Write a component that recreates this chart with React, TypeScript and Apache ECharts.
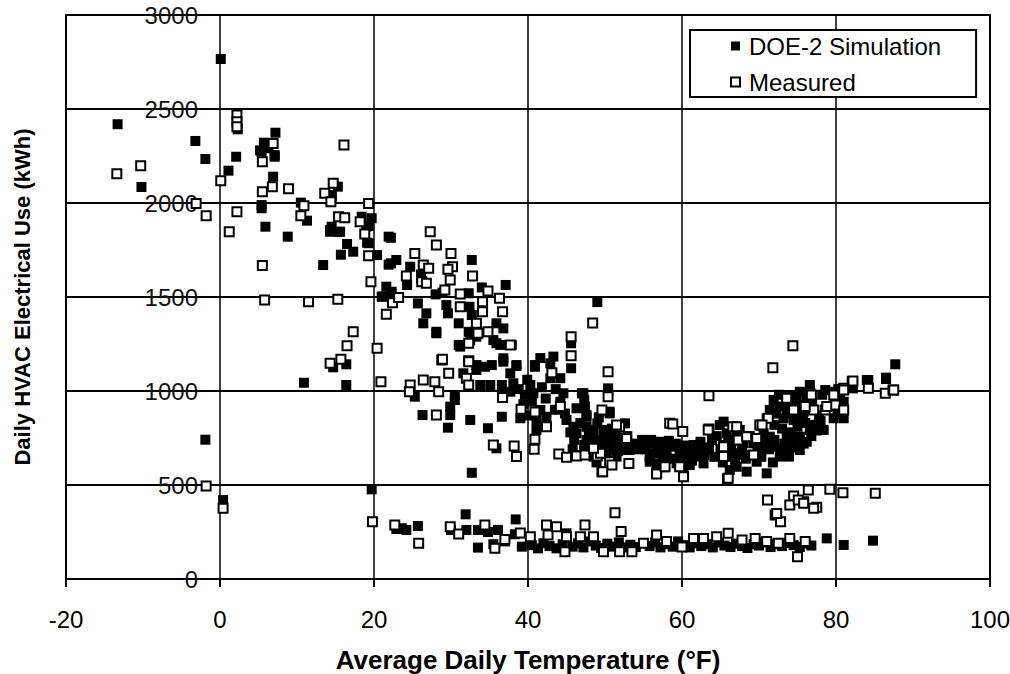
import React, { useEffect, useRef } from "react";
import * as echarts from "echarts";

const FONT = "'Liberation Sans', Arial, Helvetica, sans-serif";

const seriesNames = ["DOE-2 Simulation", "Measured"];
const xTitle = "Average Daily Temperature (°F)";
const yTitle = "Daily HVAC Electrical Use (kWh)";

// DOE-2 simulation points [temperature °F, kWh]
const simCold: [number, number][] = [
  [-13.3, 2419], [-10.2, 2085], [-3.2, 2330], [-1.9, 2234], [0.1, 2766], [1.1, 2172], [2.1, 2246], [2.3, 2392],
  [5.2, 2280], [5.4, 2273], [5.7, 2321], [6.3, 2291], [6.9, 2317], [7.1, 2246], [7.2, 2374], [7.1, 2255], [6.9, 2140],
  [5.4, 1989], [5.4, 1972], [5.9, 1874], [8.8, 1821], [10.5, 2002], [11.3, 1906], [10.9, 1044], [-1.9, 741], [0.4, 420],
];
const simCool: [number, number][] = [
  [15.3, 2087], [14.5, 2033], [14.5, 2042], [14.5, 1874], [14.3, 1847], [15.6, 1847], [14.3, 1856], [15.4, 1847],
  [16.5, 1782], [15.7, 1725], [17.3, 1741], [13.4, 1670], [18.4, 1927], [19.7, 1919], [19.3, 1878], [19.0, 1874],
  [19.3, 1786], [19.1, 1789], [20.4, 1723], [21.9, 1821], [21.9, 1672], [21.1, 1502], [21.6, 1555], [22.2, 1815],
  [22.2, 1679], [22.9, 1697], [21.0, 1502], [22.3, 1528], [14.7, 1126], [16.4, 1142], [16.4, 1032], [19.7, 477],
];
const simHeating: [number, number][] = [
  [24.7, 1661], [24.3, 1564], [26.1, 1599], [26.1, 1620], [28.0, 1514], [28.9, 1523], [25.7, 1466], [26.8, 1413],
  [26.4, 1360], [28.1, 1315], [29.4, 1457], [29.6, 1413], [31.0, 1360], [32.3, 1520], [32.7, 1697], [34.0, 1551],
  [32.4, 1448], [32.7, 1404], [32.3, 1315], [32.5, 1271], [35.9, 1360], [36.8, 1333], [35.5, 1271], [36.4, 1245],
  [37.1, 1564], [38.5, 1138], [40.9, 1138], [36.8, 1174], [33.3, 1138], [31.0, 1245], [28.1, 1307], [31.2, 1236],
  [33.3, 1289], [35.9, 1254], [37.9, 1245], [36.8, 1156], [38.5, 1133], [33.3, 1112], [34.4, 1129], [35.3, 1138],
  [31.6, 1094], [33.8, 1032], [35.1, 1032], [36.6, 1032], [37.7, 1094], [38.1, 1041], [37.7, 996], [36.6, 863],
  [34.8, 802], [32.5, 846], [29.6, 805], [29.9, 872], [29.9, 917], [30.5, 952], [30.5, 979], [26.3, 872],
  [25.3, 970], [35.9, 695], [32.7, 565], [39.0, 855], [38.8, 1010], [39.6, 980], [39.9, 1060], [39.4, 930],
  [40.1, 870],
];
const simMild: [number, number][] = [
  [40.9, 1129], [43.3, 1183], [42.9, 1147], [42.9, 1068], [44.2, 1068], [45.6, 1121], [45.6, 1254], [49.0, 1473],
  [41.6, 1175], [40.3, 1032], [40.7, 988], [40.5, 943], [41.6, 899], [42.4, 863], [41.1, 846], [41.1, 793],
  [44.6, 988], [44.2, 943], [47.0, 988], [47.3, 952], [46.3, 908], [45.0, 846], [45.9, 810], [47.6, 872],
  [46.3, 775], [48.1, 793], [49.0, 828], [49.8, 793], [50.6, 881], [50.4, 1005], [52.6, 828], [47.6, 739],
  [49.8, 739], [51.5, 757], [52.4, 704], [51.1, 686], [49.4, 686], [48.1, 686], [47.3, 713], [53.2, 686],
  [55.8, 722], [57.1, 722], [57.6, 669], [55.8, 651], [56.7, 615], [50.4, 1014], [50.6, 890], [47.2, 988],
  [47.4, 917], [47.6, 863], [48.5, 793], [50.0, 766], [51.5, 739], [52.8, 686], [51.5, 651], [49.4, 704],
  [48.1, 713], [47.6, 810], [51.1, 757], [52.2, 730], [48.5, 651], [50.2, 669], [41.8, 1020], [42.3, 960],
  [43.6, 1010], [43.5, 900], [44.8, 880], [45.5, 780], [46.0, 740], [46.8, 830], [47.9, 760], [48.7, 740],
  [49.2, 860], [50.3, 720], [50.9, 800], [51.7, 680], [52.9, 760], [53.7, 720], [54.3, 690], [54.8, 740],
  [48.9, 620], [47.0, 660], [45.8, 690],
];
const simCooling: [number, number][] = [
  [55.4, 722], [56.3, 669], [55.8, 624], [57.1, 730], [58.0, 686], [57.6, 633], [58.9, 704], [59.7, 669],
  [59.3, 615], [60.6, 686], [61.5, 713], [61.9, 651], [62.8, 615], [63.2, 686], [63.9, 739], [61.0, 606],
  [60.2, 589], [57.1, 597], [64.9, 819], [65.8, 775], [67.1, 757], [68.0, 722], [65.4, 713], [66.6, 669],
  [67.5, 660], [65.8, 651], [67.1, 597], [68.4, 571], [66.2, 580], [65.4, 837], [67.5, 793], [69.3, 722],
  [70.1, 686], [69.7, 624], [71.0, 562], [71.4, 757], [72.3, 704], [72.7, 651], [73.6, 757], [74.5, 722],
  [75.3, 686], [73.9, 651], [76.2, 730], [75.3, 757], [70.6, 775], [71.9, 952], [71.4, 899], [71.0, 855],
  [73.2, 855], [72.7, 917], [73.6, 881], [74.5, 846], [75.7, 846], [74.5, 970], [75.0, 926], [76.2, 961],
  [75.3, 996], [76.6, 1032], [78.6, 1005], [79.9, 996], [81.0, 943], [81.0, 855], [79.7, 855], [78.4, 793],
  [76.6, 793], [82.2, 1014], [84.0, 1058], [86.5, 1071], [87.7, 1142], [84.2, 1058], [86.5, 1064],
  [55.2, 690], [56.0, 740], [56.8, 700], [57.5, 655], [58.3, 735], [58.6, 640], [59.2, 720], [59.8, 640],
  [60.4, 710], [60.9, 660], [61.3, 630], [62.0, 690], [62.4, 730], [62.9, 660], [63.5, 700], [64.2, 650],
  [64.5, 760], [65.0, 690], [65.3, 620], [66.0, 740], [66.4, 700], [66.9, 630], [67.8, 690], [68.3, 640],
  [68.8, 760], [69.1, 660], [69.8, 700], [70.3, 650], [70.8, 730], [71.3, 690], [71.8, 620], [72.0, 740],
  [72.8, 680], [73.3, 720], [73.6, 690], [74.1, 760], [74.8, 700], [75.8, 720], [76.8, 760], [77.2, 820],
  [72.2, 880], [72.6, 980], [73.9, 910], [74.9, 960], [75.8, 890], [76.9, 940], [77.8, 870], [78.2, 980],
  [79.2, 920], [80.2, 880], [80.5, 960], [72.0, 820], [73.0, 800], [74.0, 780], [75.0, 810], [76.0, 830],
  [77.5, 790], [78.0, 840], [80.3, 1010],
];
const simBase: [number, number][] = [
  [22.9, 266], [23.6, 270], [24.2, 261], [25.7, 282], [30.0, 261], [31.9, 344], [32.0, 261], [33.5, 261],
  [33.5, 167], [34.8, 250], [35.5, 185], [36.1, 261], [37.0, 200], [38.3, 238], [38.4, 317], [39.2, 172],
  [40.5, 180], [41.3, 163], [42.0, 190], [42.8, 175], [43.7, 163], [44.5, 185], [45.0, 243], [45.8, 172],
  [46.5, 190], [47.2, 168], [48.0, 200], [48.8, 178], [49.5, 165], [50.3, 188], [51.0, 172], [51.8, 195],
  [52.6, 168], [53.3, 182], [54.0, 170], [55.8, 175], [56.5, 195], [57.2, 168], [58.0, 185], [58.8, 172],
  [59.5, 200], [60.3, 180], [61.0, 168], [61.8, 190], [62.5, 175], [63.2, 185], [64.0, 168], [64.8, 195],
  [65.5, 178], [66.3, 170], [67.0, 188], [67.8, 175], [68.5, 165], [69.3, 185], [70.0, 178], [70.8, 195],
  [71.5, 170], [72.3, 185], [73.0, 175], [73.8, 192], [74.5, 180], [75.3, 170], [76.0, 188], [76.8, 178],
  [78.8, 216], [81.0, 181], [84.8, 204],
];

// Measured points [temperature °F, kWh]
const measCold: [number, number][] = [
  [-13.4, 2156], [-10.3, 2198], [-3.1, 1998], [-1.8, 1932], [0.1, 2119], [2.2, 2468], [2.2, 2432], [2.2, 2406],
  [2.2, 1954], [1.2, 1847], [-1.8, 495], [0.4, 376], [5.5, 2220], [5.5, 2060], [6.8, 2087], [6.9, 2317],
  [8.9, 2076], [5.5, 1667], [5.8, 1484], [11.5, 1475], [15.3, 1488], [17.3, 1315], [16.1, 2308], [14.7, 2105],
  [13.6, 2052], [14.4, 2007], [10.9, 1986], [10.5, 1932], [15.4, 1927], [16.2, 1922], [19.3, 1998], [18.2, 1900],
  [18.8, 1835], [19.3, 1720], [19.6, 1581], [21.6, 1408], [16.5, 1241], [14.3, 1147], [15.7, 1169], [20.4, 1227],
  [20.9, 1049], [19.8, 305],
];
const measHeating: [number, number][] = [
  [22.4, 1470], [23.2, 1497], [27.3, 1847], [28.1, 1777], [25.3, 1732], [26.4, 1670], [27.1, 1653], [24.2, 1612],
  [26.2, 1581], [26.8, 1573], [30.0, 1732], [30.2, 1661], [29.6, 1647], [29.9, 1590], [32.8, 1612], [29.2, 1537],
  [34.8, 1532], [36.3, 1493], [36.7, 1422], [31.2, 1516], [31.2, 1448], [34.1, 1475], [34.1, 1422], [33.3, 1360],
  [33.5, 1307], [34.8, 1315], [37.7, 1245], [32.3, 1254], [28.8, 1165], [32.3, 1161], [24.7, 1032], [26.4, 1059],
  [27.9, 1049], [24.6, 996], [28.4, 996], [28.9, 1169], [29.7, 1094], [32.3, 1156], [32.0, 1068], [32.3, 1032],
  [28.1, 872], [36.7, 966], [39.1, 903], [35.5, 713], [38.2, 707], [38.5, 651],
];
const measMild: [number, number][] = [
  [40.9, 743], [40.8, 690], [42.4, 810], [43.1, 1097], [45.6, 1289], [45.6, 1188], [48.4, 1362], [44.2, 917],
  [44.0, 665], [45.0, 647], [46.3, 654], [47.4, 660], [49.0, 654], [49.6, 571], [50.4, 1103], [50.4, 970],
  [49.6, 899], [51.9, 810], [52.6, 739], [53.1, 615], [50.6, 624], [56.7, 562], [58.4, 828], [57.6, 597],
  [40.9, 888], [51.5, 819], [49.4, 669], [50.9, 606], [48.5, 695], [52.8, 748], [49.7, 571],
];
const measCooling: [number, number][] = [
  [74.4, 1241], [71.8, 1124], [63.5, 975], [58.8, 824], [60.1, 784], [56.7, 559], [60.2, 544], [65.9, 532],
  [57.8, 597], [63.5, 798], [66.6, 810], [70.1, 819], [69.7, 748], [69.3, 660], [82.1, 1049], [86.4, 988],
  [87.4, 1005], [84.2, 1014], [81.0, 1014], [76.6, 988], [78.6, 899], [79.9, 926], [76.2, 908], [73.6, 970],
  [74.5, 899], [71.2, 855], [59.7, 597], [67.3, 739], [68.4, 757], [65.4, 651], [77.1, 899], [63.4, 793],
  [67.1, 810], [65.4, 704], [70.4, 819], [73.6, 961], [76.0, 917], [76.8, 979], [79.7, 979], [78.8, 917],
  [81.0, 899], [66.0, 536], [82.2, 1053], [87.5, 1005], [81.0, 1005],
];
const measSummerLow: [number, number][] = [
  [85.1, 456], [80.9, 459], [79.2, 477], [76.4, 473], [71.1, 420], [77.5, 381], [74.5, 441], [72.1, 340],
  [72.8, 305], [74.0, 394], [75.8, 411], [72.3, 349], [75.1, 420], [75.8, 403], [77.1, 376], [75.0, 119],
];
const measBase: [number, number][] = [
  [25.8, 190], [22.7, 287], [29.9, 278], [34.4, 287], [35.7, 163], [40.3, 225], [42.4, 287], [42.6, 234],
  [43.7, 278], [44.8, 145], [47.4, 287], [51.3, 353], [52.1, 252], [56.7, 234], [66.0, 243], [48.5, 225],
  [49.8, 145], [51.9, 145], [53.5, 145], [61.5, 216], [62.8, 216], [64.5, 225], [67.8, 207], [45.0, 225],
  [46.8, 225], [31.0, 240], [37.0, 210], [39.0, 245], [55.0, 190], [58.0, 200], [60.0, 170], [69.5, 215],
  [71.0, 200], [72.5, 190], [74.0, 215], [76.0, 200],
];

const simulated = [...simCold, ...simCool, ...simHeating, ...simMild, ...simCooling, ...simBase];
const measured = [...measCold, ...measHeating, ...measMild, ...measCooling, ...measSummerLow, ...measBase];

export default function App() {
  const ref = useRef<HTMLDivElement>(null);
  useEffect(() => {
    if (!ref.current) return;
    const chart = echarts.init(ref.current, undefined, { renderer: "svg" });
    chart.setOption({
      animation: false,
      backgroundColor: "#ffffff",
      textStyle: { fontFamily: FONT },
      grid: {
        left: 66,
        right: 20,
        top: 15,
        bottom: 95,
        containLabel: false,
        outerBoundsMode: "none",
        show: true,
        borderColor: "#000",
        borderWidth: 2,
        backgroundColor: "transparent",
      },
      legend: {
        data: seriesNames,
        orient: "vertical",
        left: 690,
        top: 30,
        padding: [4, 35, 3, 40],
        itemGap: 12,
        itemWidth: 9,
        itemHeight: 9,
        icon: "rect",
        backgroundColor: "#fff",
        borderColor: "#000",
        borderWidth: 2,
        borderRadius: 0,
        selectedMode: false,
        textStyle: { fontFamily: FONT, fontSize: 24, color: "#000", padding: [0, 0, 0, 4] },
      },
      xAxis: {
        type: "value",
        min: -20,
        max: 100,
        interval: 20,
        name: xTitle,
        nameLocation: "middle",
        nameGap: 68,
        nameTextStyle: { fontFamily: FONT, fontSize: 26, fontWeight: "bold", color: "#000" },
        axisLine: { show: true, onZero: false, lineStyle: { color: "#000", width: 2 } },
        axisTick: { show: true, length: 8, lineStyle: { color: "#000", width: 2 } },
        axisLabel: { fontFamily: FONT, fontSize: 24, color: "#000", margin: 28 },
        splitLine: { show: true, lineStyle: { color: "#000", width: 1.5 } },
      },
      yAxis: {
        type: "value",
        min: 0,
        max: 3000,
        interval: 500,
        name: yTitle,
        nameLocation: "middle",
        nameGap: 33,
        nameTextStyle: { fontFamily: FONT, fontSize: 22, fontWeight: "bold", color: "#000" },
        axisLine: { show: false, onZero: false },
        axisTick: { show: false },
        axisLabel: {
          fontFamily: FONT,
          fontSize: 24,
          color: "#111",
          margin: -132,
          align: "right",
          padding: [6, 0, 0, 0],
          formatter: (v: number) => String(v),
        },
        splitLine: { show: true, lineStyle: { color: "#000", width: 2 } },
      },
      series: [
        {
          name: seriesNames[0],
          type: "scatter",
          data: simulated,
          symbol: "rect",
          symbolSize: 10,
          itemStyle: { color: "#000", opacity: 1 },
          z: 2,
        },
        {
          name: seriesNames[1],
          type: "scatter",
          data: measured,
          symbol: "rect",
          symbolSize: 9,
          itemStyle: { color: "#fff", borderColor: "#000", borderWidth: 2, opacity: 1 },
          z: 3,
        },
      ],
    });
    return () => chart.dispose();
  }, []);
  return (
    <div
      ref={ref}
      style={{ position: "absolute", left: 0, top: 0, width: 1010, height: 674, background: "#fff" }}
    />
  );
}
